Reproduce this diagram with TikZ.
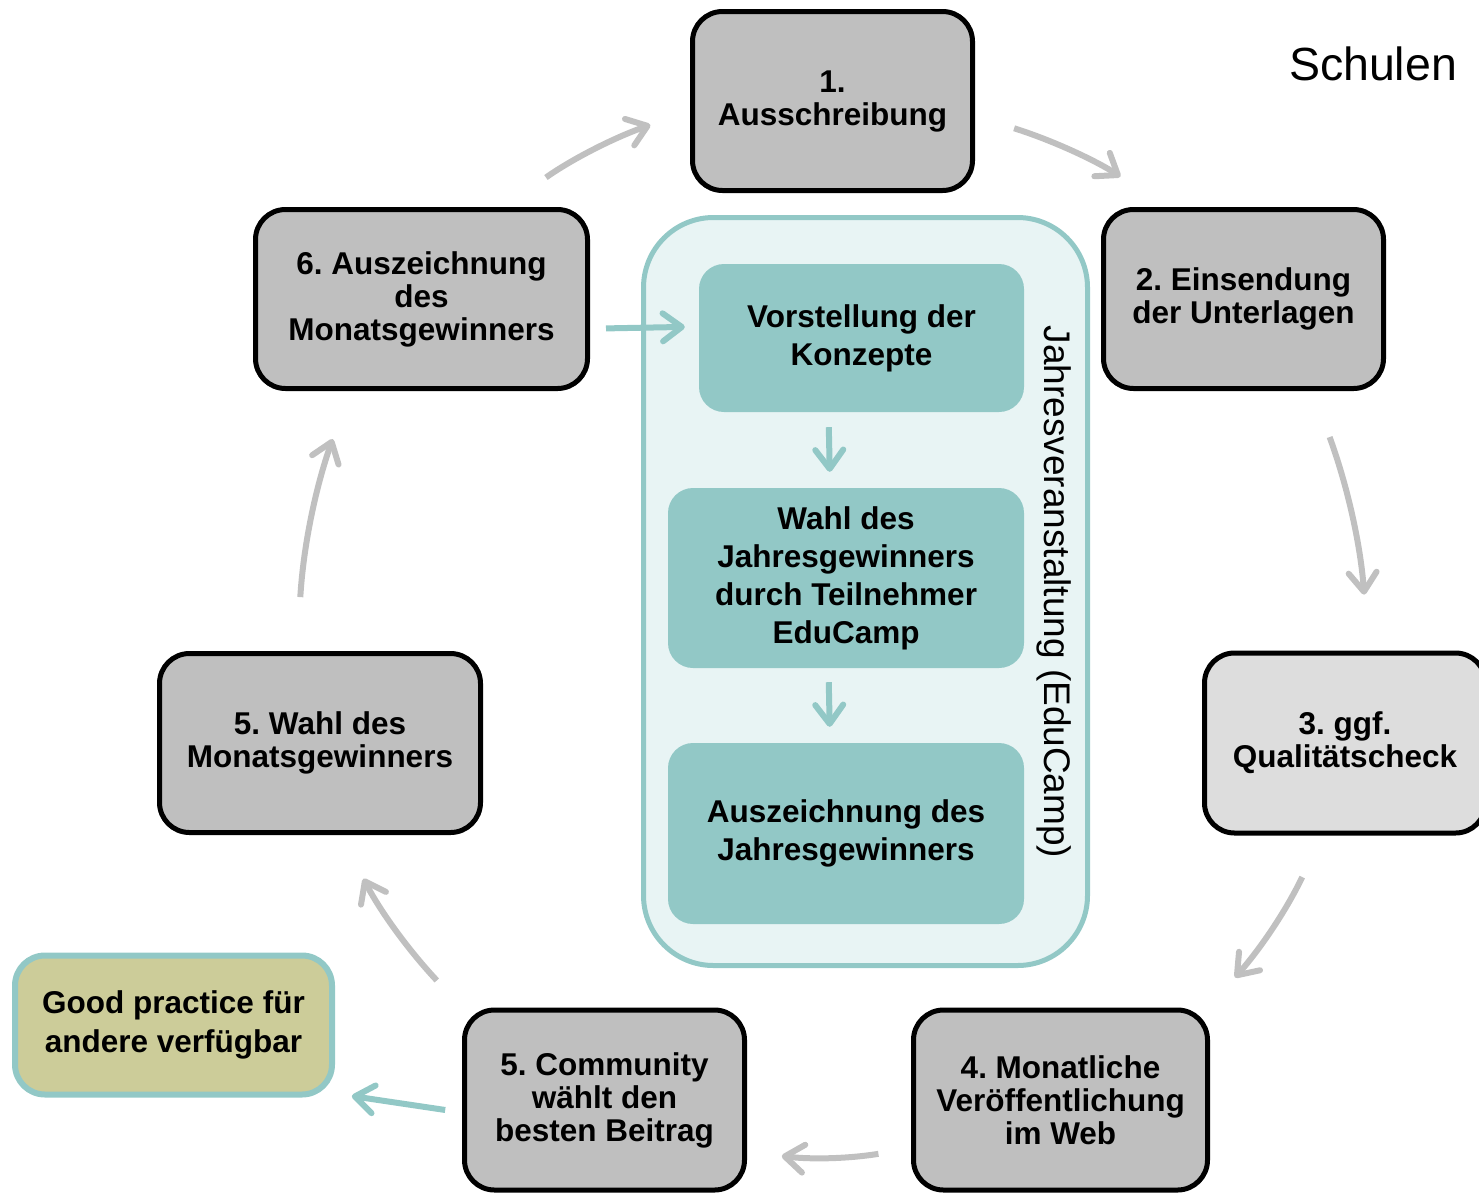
\documentclass[tikz,border=0pt]{standalone}
\usepackage{fontspec}
\setmainfont{Liberation Sans}
\usetikzlibrary{arrows.meta, positioning}
\definecolor{boxgray}{HTML}{BFBFBF}
\definecolor{checkgray}{HTML}{DDDDDD}
\definecolor{campteal}{HTML}{92C8C6}
\definecolor{campbg}{HTML}{E8F4F4}
\definecolor{goodfill}{HTML}{CCCC99}
\definecolor{arrowgray}{HTML}{C0C0C0}
\frenchspacing

\begin{document}
\begin{tikzpicture}[x=1pt,y=-1pt,on grid,>={Straight Barb[length=19pt,width=28pt,round]},
	stage/.style={draw, line width=5pt, rounded corners=30pt, fill=boxgray, minimum width=280pt, minimum height=179pt, inner sep=0pt, align=center, font=\fontsize{31.5}{33}\selectfont\bfseries},
	hall/.style={draw=campteal, fill=campbg, line width=5pt, rounded corners=70pt},
	camp/.style={fill=campteal, rounded corners=25pt, inner sep=0pt, align=center, font=\fontsize{31.5}{38}\selectfont\bfseries},
	turn/.style={draw=arrowgray, line width=6pt, ->, bend left=8},
	link/.style={draw=campteal, line width=6pt, ->}]
	
	\useasboundingbox (0,0) rectangle (1479,1192);
	
	\node (s1) [stage] at (832.5,101) {1.\\Ausschreibung};
	\node (s2) [stage, below right=198pt and 411pt of s1] {2. Einsendung\\der Unterlagen};
	\node (s6) [stage, left=822pt of s2, minimum width=332pt] {6. Auszeichnung\\des\\Monatsgewinners};
	\node (s3) [stage, fill=checkgray, minimum width=281pt, minimum height=180pt] at (1345,743) {3. ggf.\\Qualitätscheck};
	\node (s5) [stage, left=1025pt of s3, minimum width=321pt] {5. Wahl des\\Monatsgewinners};
	\node (s4) [stage, minimum width=294pt, minimum height=180pt] at (1060.5,1100) {4. Monatliche\\Veröffentlichung\\im Web};
	\node (s5c) [stage, left=456pt of s4, minimum height=180pt] {5. Community\\wählt den\\besten Beitrag};
	\node (gp) [stage, draw=campteal, line width=6pt, fill=goodfill, minimum width=317pt, minimum height=139pt, font=\fontsize{31.5}{39}\selectfont\bfseries] at (173.5,1025) {Good practice für\\andere verfügbar};
	
	\node (event) [hall, minimum width=444pt, minimum height=748pt] at (865.5,591.5) {};
	\node (v1) [camp, minimum width=325pt, minimum height=148pt] at (861.5,338) {Vorstellung der\\Konzepte};
	\node (v2) [camp, minimum width=356pt, minimum height=180pt] at (846,578) {Wahl des\\Jahresgewinners\\durch Teilnehmer\\EduCamp};
	\node (v3) [camp, minimum width=356pt, minimum height=181pt, below=255.5pt of v2] {Auszeichnung des\\Jahresgewinners};
	\node (label) [rotate=-90, inner sep=0pt, font=\fontsize{37}{40}\selectfont] at (1054,592) {Jahresveranstaltung (EduCamp)};
	
	\node (school) [inner sep=0pt, font=\fontsize{46.5}{50}\selectfont] at (1373,64) {Schulen};
	
	\path
	(s6.48.8) edge [turn, shorten <=51pt, shorten >=42pt] (s1.184.8)
	(s1.354.4) edge [turn, shorten <=41pt, shorten >=55pt] (s2.130.8)
	(s2.307.9) edge [turn, shorten <=49pt, shorten >=56pt] (s3.76)
	(s3.256) edge [turn, shorten <=46pt, shorten >=40pt] (s4.32.7)
	(s4.198.7) edge [turn, shorten <=33pt, shorten >=35pt] (s5c.340.5)
	(s5c.147) edge [turn, shorten <=37pt, shorten >=49pt] (s5.283.5)
	(s5.104.6) edge [turn, shorten <=54pt, shorten >=51pt] (s6.232.3);
	
	\path
	(s6.350.2) edge [link, shorten <=16pt, shorten >=14pt] (v1.176.8)
	(v1.246.9) edge [link, shorten <=15pt, shorten >=16pt] (v2.100.1)
	(v2.259.9) edge [link, shorten <=14pt, shorten >=16pt] (v3.100)
	(s5c.185.4) edge [link, shorten <=17pt, shorten >=17pt] (gp.337.3);
\end{tikzpicture}
\end{document}
